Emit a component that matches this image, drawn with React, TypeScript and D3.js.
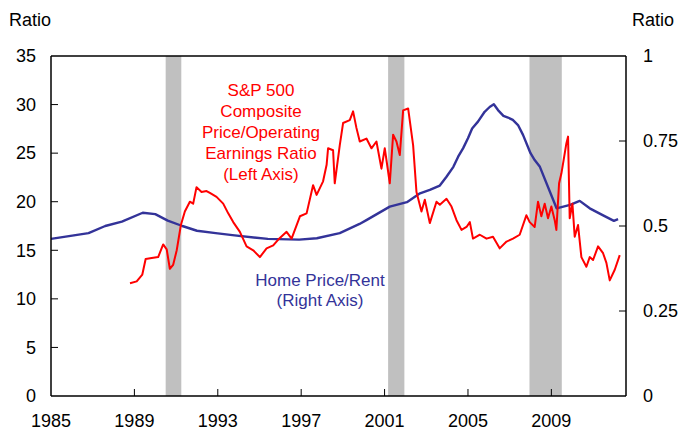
import React from 'react';
import * as d3 from 'd3';

// S&P 500 composite price / operating earnings (left axis)
const spYears = [
  1988.79, 1989.11, 1989.38, 1989.54, 1989.83, 1990.14, 1990.38, 1990.55, 1990.7, 1990.86,
  1991.03, 1991.23, 1991.42, 1991.66, 1991.82, 1991.98, 1992.22, 1992.46, 1992.62, 1992.94,
  1993.26, 1993.5, 1993.74, 1994.06, 1994.38, 1994.7, 1995.02, 1995.34, 1995.66, 1995.9,
  1996.3, 1996.54, 1996.94, 1997.26, 1997.57, 1997.74, 1998.05, 1998.22, 1998.29, 1998.53,
  1998.61, 1998.85, 1999.01, 1999.33, 1999.49, 1999.65, 1999.81, 2000.13, 2000.37, 2000.61,
  2000.85, 2001.01, 2001.25, 2001.41, 2001.57, 2001.73, 2001.89, 2002.13, 2002.37, 2002.53,
  2002.77, 2002.93, 2003.17, 2003.49, 2003.65, 2003.97, 2004.21, 2004.45, 2004.69, 2004.93,
  2005.09, 2005.24, 2005.57, 2005.89, 2006.2, 2006.52, 2006.85, 2007.16, 2007.48, 2007.8,
  2007.96, 2008.2, 2008.36, 2008.52, 2008.68, 2008.84, 2009.0, 2009.16, 2009.24, 2009.37,
  2009.48, 2009.59, 2009.72, 2009.8, 2009.88, 2010.01, 2010.12, 2010.28, 2010.44, 2010.68,
  2010.84, 2011.0, 2011.24, 2011.48, 2011.64, 2011.8, 2012.04, 2012.28,
];
const spValues = [
  11.6, 11.8, 12.5, 14.1, 14.2, 14.3, 15.6, 15.1, 13.1, 13.5,
  15.0, 17.6, 19.0, 20.0, 19.8, 21.5, 21.0, 21.1, 20.9, 20.5,
  19.8, 18.8, 17.9, 16.9, 15.4, 15.0, 14.3, 15.2, 15.5, 16.1,
  16.9, 16.2, 18.5, 18.8, 21.7, 20.7, 22.1, 23.8, 25.5, 25.3,
  21.9, 25.8, 28.1, 28.4, 29.3, 27.6, 26.2, 26.5, 25.5, 26.2,
  23.4, 25.5, 21.9, 26.9, 26.2, 24.8, 29.4, 29.6, 25.8, 21.0,
  19.0, 20.2, 17.8, 20.0, 19.7, 20.3, 19.5, 18.1, 17.1, 17.4,
  17.9, 16.2, 16.6, 16.2, 16.4, 15.2, 15.9, 16.2, 16.6, 18.6,
  17.9, 17.4, 20.0, 18.5, 19.8, 18.3, 19.5, 18.1, 17.1, 21.9,
  22.9, 24.3, 26.0, 26.7, 18.3, 19.8, 16.4, 17.6, 14.3, 13.3,
  14.3, 14.0, 15.4, 14.7, 13.7, 11.9, 13.0, 14.5,
];

// Home price / rent (right axis)
const hpYears = [
  1985.0, 1986.8, 1987.6, 1988.4, 1989.4, 1990.0, 1990.6, 1991.3, 1992.0, 1992.9,
  1993.7, 1995.4, 1996.9, 1997.75, 1998.85, 1999.8, 2000.15, 2001.25, 2002.07, 2002.7,
  2003.17, 2003.65, 2003.97, 2004.3, 2004.53, 2004.77, 2005.0, 2005.2, 2005.48, 2005.8,
  2006.04, 2006.24, 2006.44, 2006.7, 2006.92, 2007.15, 2007.4, 2007.64, 2008.0, 2008.2,
  2008.45, 2009.25, 2009.9, 2010.36, 2010.84, 2011.46, 2012.0, 2012.2,
];
const hpValues = [
  0.462, 0.479, 0.5, 0.513, 0.539, 0.535, 0.516, 0.5, 0.486, 0.479,
  0.473, 0.462, 0.46, 0.464, 0.479, 0.506, 0.518, 0.557, 0.57, 0.596,
  0.606, 0.619, 0.645, 0.674, 0.704, 0.729, 0.758, 0.787, 0.807, 0.836,
  0.85, 0.858, 0.841, 0.824, 0.819, 0.812, 0.797, 0.768, 0.714, 0.694,
  0.674, 0.552, 0.562, 0.574, 0.552, 0.532, 0.515, 0.52,
];

const recessionStarts = [1990.5, 2001.17, 2007.95];
const recessionEnds = [1991.25, 2001.95, 2009.5];

const xTicks = [1985, 1989, 1993, 1997, 2001, 2005, 2009];
const leftTicks = [0, 5, 10, 15, 20, 25, 30, 35];
const rightTicks = [0, 0.25, 0.5, 0.75, 1];
const rightTickLabels = ['0', '0.25', '0.5', '0.75', '1'];

const spLabel = ['S&P 500', 'Composite', 'Price/Operating', 'Earnings Ratio', '(Left Axis)'];
const hpLabel = ['Home Price/Rent', '(Right Axis)'];

const RED = '#ff0000';
const BLUE = '#333399';

export default function App() {
  const width = 683;
  const height = 434;
  const margin = { top: 56, right: 57, bottom: 38, left: 51 };
  const x0 = margin.left;
  const x1 = width - margin.right;
  const y0 = height - margin.bottom;
  const y1 = margin.top;

  const x = d3.scaleLinear().domain([1985, 2012.58]).range([x0, x1]);
  const yL = d3.scaleLinear().domain([0, 35]).range([y0, y1]);
  const yR = d3.scaleLinear().domain([0, 1]).range([y0, y1]);

  const spLine = d3
    .line<number>()
    .x((d, i) => x(spYears[i]))
    .y((d) => yL(d));
  const hpLine = d3
    .line<number>()
    .x((d, i) => x(hpYears[i]))
    .y((d) => yR(d));

  const font = 'Arial, "Liberation Sans", sans-serif';

  return (
    <svg
      width={width}
      height={height}
      style={{ position: 'absolute', left: 0, top: 0, background: '#fff' }}
      fontFamily={font}
    >
      {/* recession bars */}
      {recessionStarts.map((s, i) => (
        <rect
          key={i}
          x={x(s)}
          y={y1}
          width={x(recessionEnds[i]) - x(s)}
          height={y0 - y1}
          fill="#c0c0c0"
        />
      ))}

      {/* lines */}
      <path d={hpLine(hpValues) || ''} fill="none" stroke={BLUE} strokeWidth={2.4} strokeLinejoin="round" />
      <path d={spLine(spValues) || ''} fill="none" stroke={RED} strokeWidth={2} strokeLinejoin="round" />

      {/* frame */}
      <line x1={x0} x2={x1} y1={y1} y2={y1} stroke="#000" strokeWidth={1.3} />
      <line x1={x0} x2={x1} y1={y0} y2={y0} stroke="#000" strokeWidth={1.5} />
      <line x1={x0} x2={x0} y1={y1} y2={y0} stroke="#000" strokeWidth={1.5} />
      <line x1={x1} x2={x1} y1={y1} y2={y0} stroke="#000" strokeWidth={1.5} />

      {/* bottom axis */}
      {xTicks.map((t) => (
        <g key={t}>
          {t !== 1985 && <line x1={x(t)} x2={x(t)} y1={y0} y2={y0 - 7} stroke="#000" strokeWidth={1} />}
          <text x={x(t)} y={427} textAnchor="middle" fontSize={18}>
            {t}
          </text>
        </g>
      ))}

      {/* left axis */}
      {leftTicks.map((t) => (
        <g key={t}>
          {t > 0 && t < 35 && <line x1={x0} x2={x0 + 7} y1={yL(t)} y2={yL(t)} stroke="#000" strokeWidth={1} />}
          <text x={36} y={yL(t)} dy="0.35em" textAnchor="end" fontSize={18}>
            {t}
          </text>
        </g>
      ))}

      {/* right axis */}
      {rightTicks.map((t, i) => (
        <g key={t}>
          {t > 0 && t < 1 && <line x1={x1} x2={x1 - 7} y1={yR(t)} y2={yR(t)} stroke="#000" strokeWidth={1} />}
          <text x={643} y={yR(t)} dy="0.35em" textAnchor="start" fontSize={18}>
            {rightTickLabels[i]}
          </text>
        </g>
      ))}

      <text x={9} y={26} fontSize={18}>Ratio</text>
      <text x={632} y={26} fontSize={18}>Ratio</text>

      {/* annotations */}
      {spLabel.map((s, i) => (
        <text key={s} x={261} y={90 + i * 21} dy="0.35em" textAnchor="middle" fontSize={17} fill={RED}>
          {s}
        </text>
      ))}
      {hpLabel.map((s, i) => (
        <text key={s} x={320} y={280 + i * 20} dy="0.35em" textAnchor="middle" fontSize={17} fill={BLUE}>
          {s}
        </text>
      ))}
    </svg>
  );
}
